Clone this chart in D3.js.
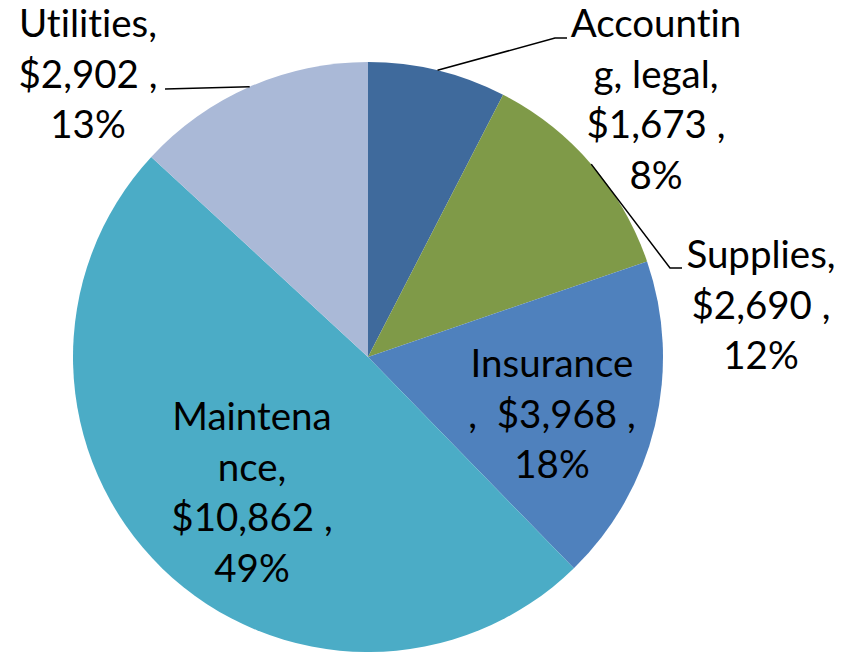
<!DOCTYPE html>
<html>
<head>
<meta charset="utf-8">
<script src="https://cdn.jsdelivr.net/npm/d3@7"></script>
<style>
  body { margin: 0; background: #fff; }
  text { font-family: Lato, "Open Sans", sans-serif; fill: #000; font-variant-ligatures: none; }
</style>
</head>
<body>
<svg id="chart" width="860" height="652"></svg>
<script>
// chart data
const categories = ["Accounting, legal", "Supplies", "Insurance", "Maintenance", "Utilities"];
const amounts = [1673, 2690, 3968, 10862, 2902];
const colors = ["#3F6A9C", "#7F9A48", "#4F81BD", "#4BACC6", "#AAB9D7"];
// label text as wrapped in the picture (amount and percent are appended)
const nameLines = [["Accountin", "g, legal,"], ["Supplies,"], ["Insurance"], ["Maintena", "nce,"], ["Utilities,"]];

// layout
const cx = 368, cy = 357, radius = 295;
const fontSize = 38.5, lineH = 50.5;
// label block: centre x, first baseline y, leader elbow/end (null = inside label)
const labelLayout = [
  { x: 656, y: 37, leader: [[555, 38], [567, 38]] },
  { x: 761, y: 268, leader: [[670, 268], [682, 268]] },
  { x: 552, y: 377, leader: null },
  { x: 252, y: 430, leader: null },
  { x: 88, y: 37, leader: [[165, 89]] }
];

const total = d3.sum(amounts);
const fmtMoney = d3.format("$,");
const fmtPct = d3.format(".0%");

const svg = d3.select("#chart");
const g = svg.append("g").attr("transform", `translate(${cx},${cy})`);

const pie = d3.pie().sort(null).value(d => d)(amounts);
const arc = d3.arc().innerRadius(0).outerRadius(radius);
const edge = d3.arc().innerRadius(radius).outerRadius(radius);

// slices
g.selectAll("path.slice")
  .data(pie)
  .enter()
  .append("path")
  .attr("class", "slice")
  .attr("d", arc)
  .attr("fill", (d, i) => colors[i]);

// leader lines
pie.forEach((d, i) => {
  const lay = labelLayout[i];
  if (!lay.leader) return;
  const start = edge.centroid(d);
  const pts = [start].concat(lay.leader.map(p => [p[0] - cx, p[1] - cy]));
  g.append("path")
    .attr("d", d3.line()(pts))
    .attr("fill", "none")
    .attr("stroke", "#000")
    .attr("stroke-width", 1.5);
});

// labels
pie.forEach((d, i) => {
  const lay = labelLayout[i];
  let lines = nameLines[i].slice();
  const money = fmtMoney(amounts[i]) + " ,";
  const pct = fmtPct(amounts[i] / total);
  if (i === 2) lines.push(",  " + money);
  else lines.push(money);
  lines.push(pct);
  const t = svg.append("text")
    .attr("text-anchor", "middle")
    .attr("font-size", fontSize);
  lines.forEach((ln, k) => {
    t.append("tspan")
      .attr("x", lay.x)
      .attr("y", lay.y + k * lineH)
      .attr("xml:space", "preserve")
      .text(ln);
  });
});
</script>
</body>
</html>
